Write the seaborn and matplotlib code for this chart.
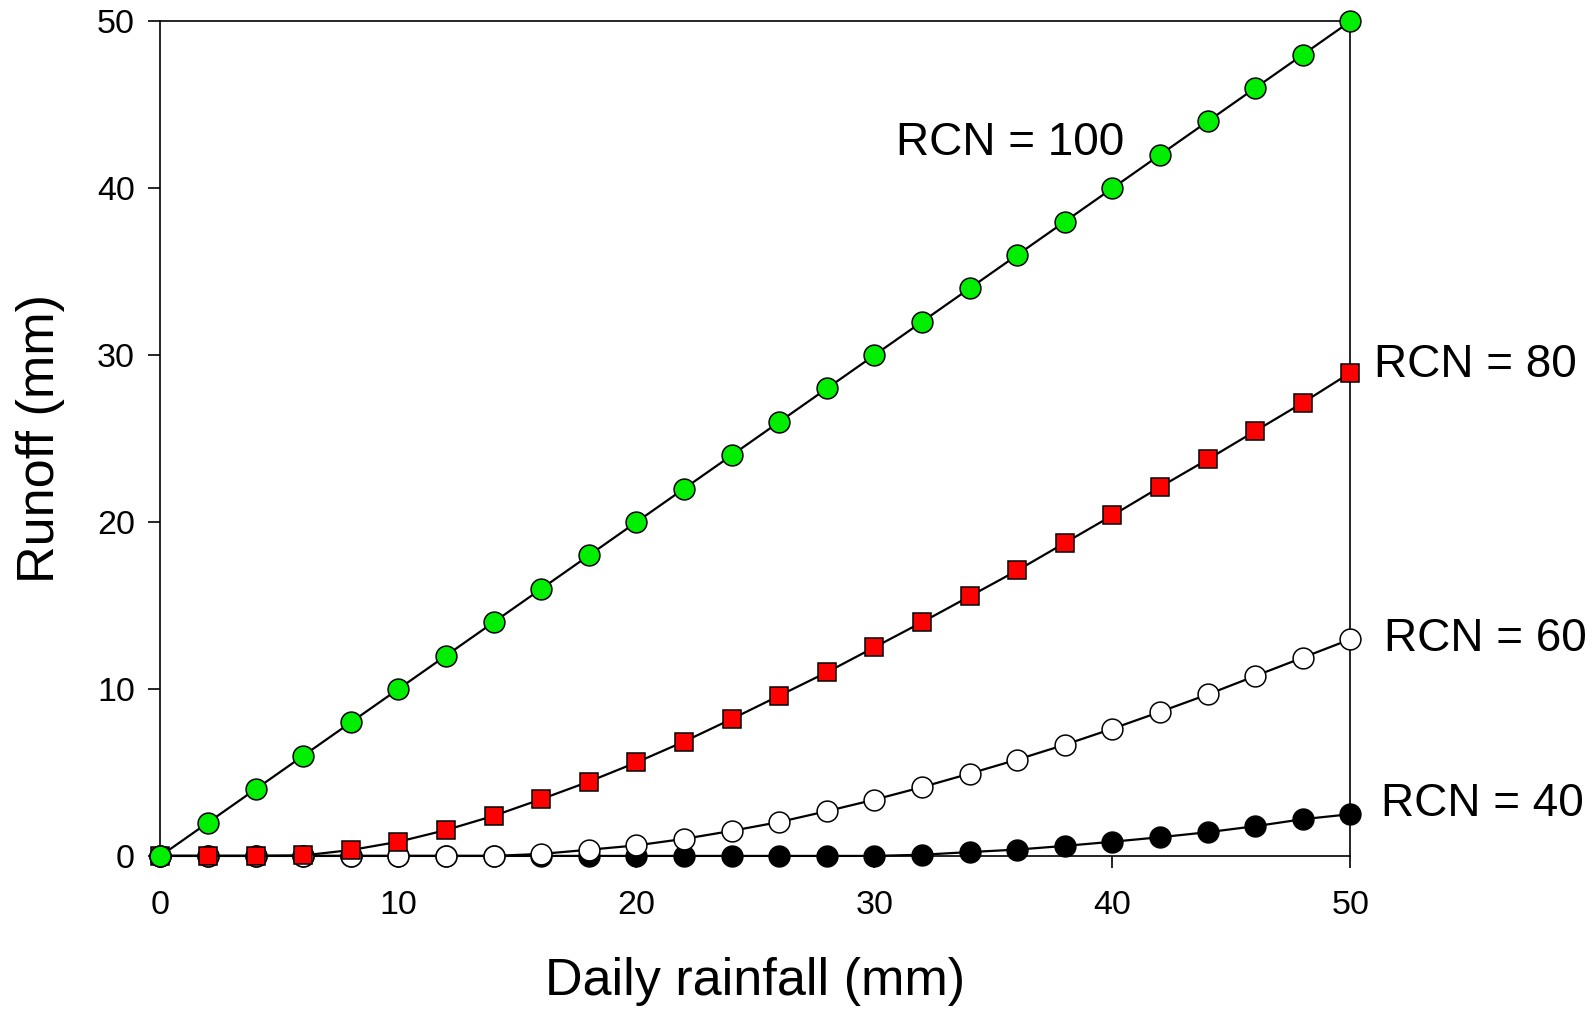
import matplotlib
matplotlib.use("Agg")
import matplotlib.pyplot as plt
import seaborn as sns

# Data
rain = [0, 2, 4, 6, 8, 10, 12, 14, 16, 18, 20, 22, 24, 26, 28, 30,
        32, 34, 36, 38, 40, 42, 44, 46, 48, 50]
rcn100 = [0, 2, 4, 6, 8, 10, 12, 14, 16, 18, 20, 22, 24, 26, 28, 30,
          32, 34, 36, 38, 40, 42, 44, 46, 48, 50]
rcn80 = [0, 0, 0, 0.03, 0.35, 0.85, 1.55, 2.4, 3.4, 4.45, 5.6, 6.85, 8.2,
         9.6, 11.0, 12.5, 14.0, 15.55, 17.1, 18.75, 20.4, 22.1, 23.75,
         25.45, 27.15, 28.95]
rcn60 = [0, 0, 0, 0, 0, 0, 0, 0, 0.12, 0.37, 0.63, 1.02, 1.5, 2.03, 2.68,
         3.37, 4.12, 4.93, 5.77, 6.66, 7.62, 8.63, 9.67, 10.78, 11.88, 12.98]
rcn40 = [0, 0, 0, 0, 0, 0, 0, 0, 0, 0, 0, 0, 0, 0, 0, 0,
         0.07, 0.23, 0.38, 0.6, 0.85, 1.12, 1.42, 1.78, 2.2, 2.5]

labels = ["RCN = 100", "RCN = 80", "RCN = 60", "RCN = 40"]
label_pos = [(35.7, 42.7, "center"), (51.0, 29.4, "left"),
             (51.4, 13.0, "left"), (51.3, 3.1, "left")]

sns.set_style("ticks")
plt.rcParams["font.family"] = ["Liberation Sans", "DejaVu Sans"]
plt.rcParams["text.color"] = "black"
plt.rcParams["axes.labelcolor"] = "black"
plt.rcParams["xtick.color"] = "black"
plt.rcParams["ytick.color"] = "black"

fig = plt.figure(figsize=(15.92, 10.11), dpi=100)
ax = fig.add_axes([0.1008, 0.1534, 0.7475, 0.8256])

# draw bottom series first so upper ones sit on top
styles = [
    (rcn40, "o", "black", 15, 3),
    (rcn60, "o", "white", 15, 4),
    (rcn80, "s", "#ff0000", 13, 5),
    (rcn100, "o", "#00ee00", 15, 6),
]
for vals, mk, fc, ms, z in styles:
    sns.lineplot(x=rain, y=vals, ax=ax, color="black", linewidth=1.6,
                 marker=mk, markersize=ms, markerfacecolor=fc,
                 markeredgecolor="black", markeredgewidth=1.1,
                 clip_on=False, zorder=z)

for lab, (tx, ty, ha) in zip(labels, label_pos):
    ax.text(tx, ty, lab, fontsize=33, ha=ha, va="center")

ax.set_xlim(0, 50)
ax.set_ylim(0, 50)
ax.set_xticks([0, 10, 20, 30, 40, 50])
ax.set_yticks([0, 10, 20, 30, 40, 50])
ax.tick_params(axis="both", direction="out", length=8.5, width=1.2,
               labelsize=24.5)
ax.tick_params(axis="x", pad=16)
ax.tick_params(axis="y", pad=10)
for sp in ax.spines.values():
    sp.set_linewidth(1.2)
    sp.set_color("black")

ax.set_xlabel("Daily rainfall (mm)", fontsize=37.5)
ax.set_ylabel("Runoff (mm)", fontsize=37.5)
ax.xaxis.set_label_coords(0.5, -0.15)
ax.xaxis.label.set_va("center")
ax.yaxis.set_label_coords(-0.1007, 0.5)
ax.yaxis.label.set_va("center")

fig.savefig("out.png", dpi=100)
